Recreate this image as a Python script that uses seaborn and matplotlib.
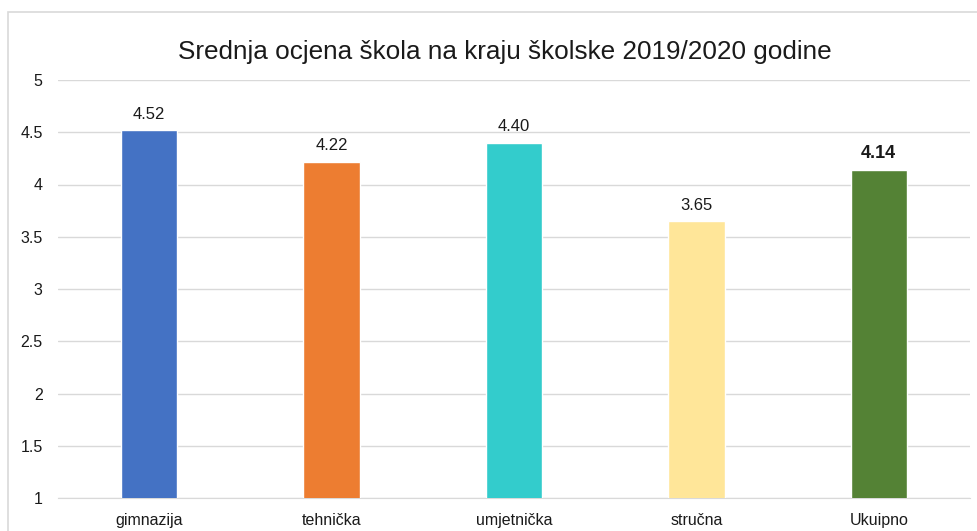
import matplotlib
matplotlib.use("Agg")
import matplotlib.pyplot as plt
import seaborn as sns
import pandas as pd
from matplotlib.patches import Rectangle

# Data ==================================================================================

categories = ["gimnazija", "tehnička", "umjetnička", "stručna", "Ukuipno"]
values = [4.52, 4.22, 4.40, 3.65, 4.14]
colors = ["#4472C4", "#ED7D31", "#33CCCC", "#FFE699", "#548235"]
y_ticks = [1, 1.5, 2, 2.5, 3, 3.5, 4, 4.5, 5]

df = pd.DataFrame({"kategorija": categories, "ocjena": values})

# Plot ==================================================================================

sns.set_style("white")
plt.rcParams["font.family"] = ["Liberation Sans", "DejaVu Sans"]

fig = plt.figure(figsize=(9.77, 5.31), dpi=100)
ax = fig.add_axes([58 / 977, 1 - 498 / 531, 912 / 977, (498 - 80) / 531])

# chart border
fig.patches.append(Rectangle((8 / 977, -0.1), 1.2, 1 - 12 / 531 + 0.1,
                             transform=fig.transFigure, fill=False,
                             edgecolor="#D9D9D9", linewidth=1.2))

sns.barplot(data=df, x="kategorija", y="ocjena", hue="kategorija",
            palette=colors, saturation=1, width=0.31, legend=False, ax=ax, zorder=3)

ax.set_ylim(1, 5)
ax.set_yticks(y_ticks)
ax.set_yticklabels([f"{t:g}" for t in y_ticks])
ax.yaxis.grid(True, color="#D9D9D9", linewidth=1)
ax.set_axisbelow(True)
for s in ax.spines.values():
    s.set_visible(False)
ax.spines["bottom"].set_visible(True)
ax.spines["bottom"].set_color("#D9D9D9")
ax.set_xlabel("")
ax.set_ylabel("")
ax.tick_params(axis="both", length=0, labelsize=11.5, colors="#1a1a1a")
ax.tick_params(axis="y", pad=11)
ax.tick_params(axis="x", pad=11)

for i, v in enumerate(values):
    last = i == len(values) - 1
    ax.annotate(f"{v:.2f}", xy=(i, v), xytext=(0, 6), textcoords="offset points",
                ha="center", va="bottom", fontsize=13 if last else 12,
                fontweight="bold" if last else "normal", color="#1a1a1a")

fig.text(505 / 977, 1 - 52 / 531, "Srednja ocjena škola na kraju školske 2019/2020 godine",
         ha="center", va="center", fontsize=18.8, color="#1a1a1a")

plt.savefig("out.png", dpi=100)
